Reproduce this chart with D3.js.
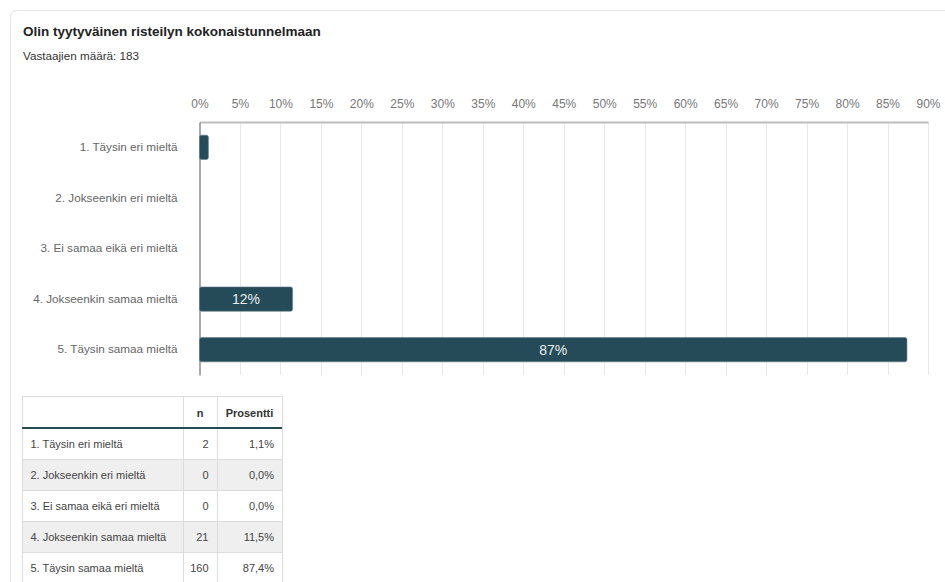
<!DOCTYPE html>
<html>
<head>
<meta charset="utf-8">
<script src="https://cdn.jsdelivr.net/npm/d3@7"></script>
<style>
  html, body { margin: 0; padding: 0; background: #fff; }
  svg { display: block; font-family: "Liberation Sans", Arial, Helvetica, sans-serif; }
</style>
</head>
<body>
<svg id="chart" width="945" height="582"></svg>
<script>
// Survey question and answer data
const title = "Olin tyytyväinen risteilyn kokonaistunnelmaan";
const respondents = 183;
const categories = [
  "1. Täysin eri mieltä",
  "2. Jokseenkin eri mieltä",
  "3. Ei samaa eikä eri mieltä",
  "4. Jokseenkin samaa mieltä",
  "5. Täysin samaa mieltä"
];
const counts = [2, 0, 0, 21, 160];
const percents = [1.1, 0.0, 0.0, 11.5, 87.4];
const xTicks = [0, 5, 10, 15, 20, 25, 30, 35, 40, 45, 50, 55, 60, 65, 70, 75, 80, 85, 90];
const tableHeaders = ["", "n", "Prosentti"];

const barColor = "#254b59";
const svg = d3.select("#chart");

// Card frame
svg.append("rect")
  .attr("x", 10.5).attr("y", 10.5)
  .attr("width", 960).attr("height", 600)
  .attr("rx", 6)
  .attr("fill", "#fff")
  .attr("stroke", "#e4e4e4");

// Heading
svg.append("text")
  .attr("x", 23).attr("y", 36)
  .attr("font-size", 13.5).attr("font-weight", "bold").attr("fill", "#222")
  .text(title);
svg.append("text")
  .attr("x", 23).attr("y", 59.5)
  .attr("font-size", 11.7).attr("fill", "#333")
  .text("Vastaajien määrä: " + respondents);

// Scales
const plotTop = 122, plotBottom = 375;
const x = d3.scaleLinear().domain([0, 90]).range([199.5, 928]);
const y = d3.scaleBand().domain(categories).range([plotTop, plotBottom])
  .paddingInner(0.52).paddingOuter(0.26);

// Vertical gridlines
svg.append("g").selectAll("line")
  .data(xTicks.slice(1))
  .join("line")
  .attr("x1", d => Math.round(x(d)) + 0.5).attr("x2", d => Math.round(x(d)) + 0.5)
  .attr("y1", plotTop).attr("y2", plotBottom)
  .attr("stroke", "#e8e8e8").attr("stroke-width", 1);

// Top axis with percent labels
const xAxis = d3.axisTop(x).tickValues(xTicks).tickSize(0).tickPadding(14)
  .tickFormat(d => d + "%");
const gx = svg.append("g").attr("transform", `translate(0,${plotTop})`).call(xAxis);
gx.select(".domain").attr("stroke", "#bdbdbd").attr("stroke-width", 2);
gx.selectAll("text").attr("font-size", 12).attr("fill", "#777")
  .attr("font-family", "Liberation Sans, Arial, sans-serif");

// Left axis with category labels
const yAxis = d3.axisLeft(y).tickSize(0).tickPadding(22);
const gy = svg.append("g").attr("transform", `translate(${x(0)},0)`).call(yAxis);
gy.select(".domain").attr("stroke", "#555").attr("stroke-width", 1);
gy.selectAll("text").attr("font-size", 11.7).attr("fill", "#666")
  .attr("font-family", "Liberation Sans, Arial, sans-serif");

// Bars
const rows = categories.map((c, i) => ({ cat: c, n: counts[i], pct: percents[i] }));
svg.append("g").selectAll("rect")
  .data(rows.filter(d => d.pct > 0))
  .join("rect")
  .attr("x", x(0))
  .attr("y", d => y(d.cat))
  .attr("width", d => x(d.pct) - x(0))
  .attr("height", y.bandwidth())
  .attr("rx", 2)
  .attr("fill", barColor)
  .attr("stroke", "#5f7f8b").attr("stroke-width", 0.6);

// Value labels inside wide bars
svg.append("g").selectAll("text")
  .data(rows.filter(d => x(d.pct) - x(0) > 40))
  .join("text")
  .attr("x", d => (x(0) + x(d.pct)) / 2)
  .attr("y", d => y(d.cat) + y.bandwidth() / 2 + 5)
  .attr("text-anchor", "middle")
  .attr("font-size", 14).attr("fill", "#e8eef0")
  .text(d => Math.round(d.pct) + "%");

// Summary table
const colX = [22, 183, 217, 282];
const tableTop = 396, headH = 32, rowH = 31;
const table = svg.append("g");
const fmtPct = d => d.toFixed(1).replace(".", ",") + "%";

// row backgrounds
table.selectAll("rect.row")
  .data(rows)
  .join("rect")
  .attr("class", "row")
  .attr("x", colX[0]).attr("y", (d, i) => tableTop + headH + i * rowH)
  .attr("width", colX[3] - colX[0]).attr("height", rowH)
  .attr("fill", (d, i) => i % 2 === 1 ? "#efefef" : "#fff");

// horizontal cell borders
const hLines = [tableTop].concat(rows.map((d, i) => tableTop + headH + (i + 1) * rowH));
table.selectAll("line.h")
  .data(hLines)
  .join("line")
  .attr("class", "h")
  .attr("x1", colX[0]).attr("x2", colX[3])
  .attr("y1", d => d + 0.5).attr("y2", d => d + 0.5)
  .attr("stroke", "#dcdcdc");

// vertical cell borders
table.selectAll("line.v")
  .data(colX)
  .join("line")
  .attr("class", "v")
  .attr("x1", d => d + 0.5).attr("x2", d => d + 0.5)
  .attr("y1", tableTop).attr("y2", tableTop + headH + rows.length * rowH)
  .attr("stroke", "#dcdcdc");

// header underline
table.append("line")
  .attr("x1", colX[0]).attr("x2", colX[3])
  .attr("y1", tableTop + headH).attr("y2", tableTop + headH)
  .attr("stroke", barColor).attr("stroke-width", 2);

// header text
table.selectAll("text.head")
  .data(tableHeaders)
  .join("text")
  .attr("class", "head")
  .attr("x", (d, i) => (colX[i] + colX[i + 1]) / 2)
  .attr("y", tableTop + 20.5)
  .attr("text-anchor", "middle")
  .attr("font-size", 11).attr("font-weight", "bold").attr("fill", "#333")
  .text(d => d);

// body text
const body = table.selectAll("g.cells")
  .data(rows)
  .join("g")
  .attr("class", "cells")
  .attr("transform", (d, i) => `translate(0,${tableTop + headH + i * rowH + rowH / 2 + 4})`);
body.append("text")
  .attr("x", colX[0] + 8.5)
  .attr("font-size", 11).attr("fill", "#444")
  .text(d => d.cat);
body.append("text")
  .attr("x", colX[2] - 8.5).attr("text-anchor", "end")
  .attr("font-size", 11).attr("fill", "#444")
  .text(d => d.n);
body.append("text")
  .attr("x", colX[3] - 8).attr("text-anchor", "end")
  .attr("font-size", 11).attr("fill", "#444")
  .text(d => fmtPct(d.pct));
</script>
</body>
</html>
